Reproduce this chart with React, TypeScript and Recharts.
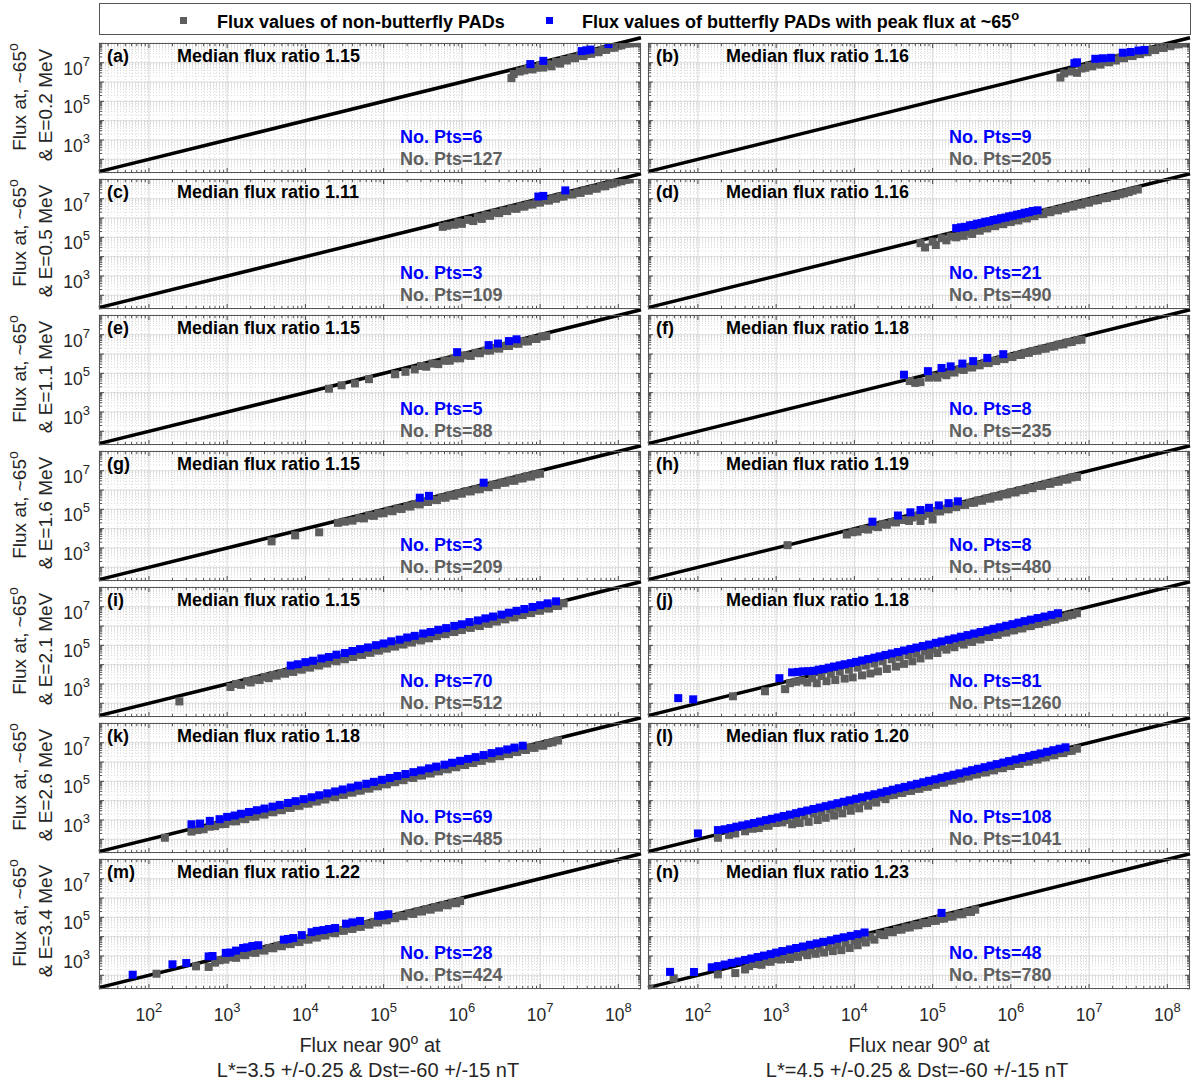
import React from 'react';
import { ScatterChart, Scatter, XAxis, YAxis, CartesianGrid, ReferenceLine } from 'recharts';

type Pair = [number, number];

// axis limits shared by every panel
const X_LIMITS: [number, number] = [23, 1.95e8];
const Y_LIMITS: [number, number] = [19.5, 1.05e8];
const X_TICK_LABELS = [1e2, 1e3, 1e4, 1e5, 1e6, 1e7, 1e8];
const Y_TICK_LABELS = [1e3, 1e5, 1e7];
const DECADES = [1e2, 1e3, 1e4, 1e5, 1e6, 1e7, 1e8];

const PANEL_TAGS = ['a', 'b', 'c', 'd', 'e', 'f', 'g', 'h', 'i', 'j', 'k', 'l', 'm', 'n'];
const MEDIAN_RATIOS = ['1.15', '1.16', '1.11', '1.16', '1.15', '1.18', '1.15', '1.19', '1.15', '1.18', '1.18', '1.20', '1.22', '1.23'];
const BUTTERFLY_COUNTS = [6, 9, 3, 21, 5, 8, 3, 8, 70, 81, 69, 108, 28, 48];
const NON_BUTTERFLY_COUNTS = [127, 205, 109, 490, 88, 235, 209, 480, 512, 1260, 485, 1041, 424, 780];
const ENERGIES_MEV = ['0.2', '0.5', '1.1', '1.6', '2.1', '2.6', '3.4'];
const L_STAR = ['3.5', '4.5'];

// [flux near 90 deg, flux at ~65 deg]
const nonButterflyA: Pair[] = [[4.3e6,1.6e6],[4.6e6,2.6e6],[5.5e6,3.5e6],[6.3e6,4e6],[7e6,4.8e6],[8e6,4.5e6],[9e6,5.5e6],[1e7,7e6],[1.1e7,5.6e6],[1.25e7,8.5e6],[1.4e7,6.5e6],[1.6e7,1.1e7],[1.8e7,9e6],[2e7,1.4e7],[2.2e7,1.3e7],[2.5e7,1.8e7],[2.8e7,1.7e7],[3.2e7,2.3e7],[3.6e7,2.2e7],[4e7,2.9e7],[4.5e7,2.9e7],[5e7,3.7e7],[5.6e7,3.5e7],[6.3e7,4.6e7],[7e7,4.6e7],[8e7,6e7],[9e7,6e7],[1e8,7.5e7],[1.1e8,8e7],[1.25e8,9.5e7],[1.4e8,1e8],[1.6e8,1.02e8]];
const butterflyA: Pair[] = [[7.5e6,8.5e6],[1.1e7,1.25e7],[3.4e7,4e7],[3.9e7,4.4e7],[4.4e7,4.8e7],[7.5e7,9.3e7]];

const nonButterflyB: Pair[] = [[4.3e6,1.7e6],[4.8e6,2.8e6],[6e6,3.5e6],[7e6,3e6],[8e6,5e6],[9e6,5.5e6],[1e7,7e6],[1.1e7,6.5e6],[1.25e7,9e6],[1.4e7,8e6],[1.6e7,1.15e7],[1.8e7,1.05e7],[2e7,1.45e7],[2.2e7,1.3e7],[2.5e7,1.8e7],[2.8e7,1.7e7],[3.2e7,2.3e7],[3.6e7,2.2e7],[4e7,2.9e7],[4.5e7,2.8e7],[5e7,3.7e7],[5.6e7,3.5e7],[6.3e7,4.7e7],[7e7,4.5e7],[8e7,6e7],[9e7,5.8e7],[1e8,7.5e7],[1.1e8,7.2e7],[1.25e8,9e7],[1.4e8,9e7],[1.6e8,1.02e8],[1.8e8,1.02e8]];
const butterflyB: Pair[] = [[6.5e6,9.5e6],[7e6,1.05e7],[1.2e7,1.6e7],[1.5e7,1.7e7],[1.9e7,1.8e7],[2.7e7,3.3e7],[3.4e7,3.6e7],[4.3e7,4.3e7],[5.1e7,4.6e7]];

const nonButterflyC: Pair[] = [[5.7e5,3.5e5],[6.5e5,4e5],[8e5,4.5e5],[9e5,6e5],[1e6,5e5],[1.2e6,8e5],[1.4e6,7e5],[1.6e6,1.1e6],[1.8e6,9e5],[2e6,1.4e6],[2.3e6,1.3e6],[2.6e6,1.9e6],[3e6,1.8e6],[3.4e6,2.4e6],[3.8e6,2.3e6],[4.3e6,3.1e6],[5e6,3e6],[5.6e6,4e6],[6.3e6,3.9e6],[7e6,5e6],[8e6,5e6],[9e6,6.5e6],[1e7,6.3e6],[1.15e7,8.3e6],[1.3e7,8e6],[1.45e7,1.05e7],[1.6e7,1e7],[1.8e7,1.3e7],[2e7,1.3e7],[2.3e7,1.7e7],[2.6e7,1.65e7],[3e7,2.1e7],[3.3e7,2e7],[3.7e7,2.7e7],[4.2e7,2.6e7],[4.7e7,3.4e7],[5.3e7,3.3e7],[6e7,4.4e7],[6.8e7,4.4e7],[7.6e7,5.6e7],[8.5e7,6e7],[9.5e7,7e7],[1.1e8,8e7],[1.25e8,9.5e7],[1.4e8,1e8]];
const butterflyC: Pair[] = [[9.5e6,1.3e7],[1.1e7,1.4e7],[2.1e7,2.7e7]];

const nonButterflyD: Pair[] = [[7e4,5e4],[8e4,3e4],[1e5,6e4],[1.1e5,4e4],[1.3e5,9e4],[1.5e5,7e4],[1.7e5,1.1e5],[2e5,1e5],[2.2e5,1.5e5],[2.5e5,1.2e5],[2.8e5,2e5],[3.2e5,1.5e5],[3.6e5,2.5e5],[4e5,2.2e5],[4.5e5,3.2e5],[5e5,2.9e5],[5.6e5,4e5],[6.3e5,3.8e5],[7e5,5e5],[8e5,4.8e5],[9e5,6.5e5],[1e6,6.2e5],[1.1e6,8e5],[1.25e6,7.5e5],[1.4e6,1e6],[1.6e6,9.5e5],[1.8e6,1.3e6],[2e6,1.25e6],[2.3e6,1.6e6],[2.6e6,1.6e6],[2.9e6,2.1e6],[3.2e6,2e6],[3.6e6,2.6e6],[4e6,2.5e6],[4.5e6,3.2e6],[5e6,3.1e6],[5.6e6,4e6],[6.3e6,4e6],[7e6,5e6],[8e6,5e6],[9e6,6.5e6],[1e7,6.3e6],[1.15e7,8e6],[1.3e7,8.5e6],[1.5e7,1.05e7],[1.7e7,1.1e7],[1.9e7,1.35e7],[2.2e7,1.4e7],[2.5e7,1.7e7],[2.8e7,1.9e7],[3.2e7,2.2e7],[3.6e7,2.6e7],[4.2e7,3e7]];
const butterflyD: Pair[] = [[2e5,3e5],[2.3e5,3.3e5],[2.6e5,3.5e5],[3e5,4.2e5],[3.3e5,4.4e5],[3.7e5,5.1e5],[4.2e5,5.5e5],[4.7e5,6.4e5],[5.3e5,6.8e5],[6e5,7.9e5],[6.7e5,8.5e5],[7.5e5,9.8e5],[8.5e5,1.06e6],[9.5e5,1.22e6],[1.06e6,1.32e6],[1.2e6,1.5e6],[1.35e6,1.63e6],[1.5e6,1.88e6],[1.7e6,2.03e6],[1.9e6,2.32e6],[2.2e6,2.52e6]];

const nonButterflyE: Pair[] = [[2e4,1.6e4],[2.9e4,2.4e4],[4.3e4,3e4],[6.5e4,5e4],[1.4e5,9e4],[1.9e5,1.2e5],[2.5e5,1.6e5],[3e5,2.4e5],[3.5e5,2.2e5],[4.2e5,3.2e5],[5e5,3e5],[6e5,4.5e5],[7e5,4.5e5],[8e5,6e5],[9.5e5,6e5],[1.1e6,8.5e5],[1.3e6,8e5],[1.5e6,1.15e6],[1.7e6,1.1e6],[2e6,1.5e6],[2.3e6,1.5e6],[2.6e6,2e6],[3e6,1.9e6],[3.5e6,2.6e6],[4e6,2.6e6],[4.6e6,3.5e6],[5.3e6,3.4e6],[6e6,4.5e6],[7e6,4.5e6],[8e6,6e6],[9e6,6e6],[1.05e7,8e6],[1.2e7,8.5e6]];
const butterflyE: Pair[] = [[8.7e5,1.25e6],[2.2e6,2.9e6],[2.9e6,3.5e6],[4e6,4.7e6],[5e6,5.8e6]];

const nonButterflyF: Pair[] = [[5.1e4,4e4],[6e4,3.2e4],[7e4,3.5e4],[9e4,6e4],[1e5,7e4],[1.15e5,6e4],[1.3e5,9.5e4],[1.5e5,8e4],[1.7e5,1.2e5],[1.9e5,1.1e5],[2.2e5,1.6e5],[2.5e5,1.5e5],[2.8e5,2.1e5],[3.2e5,2e5],[3.6e5,2.7e5],[4e5,2.6e5],[4.6e5,3.5e5],[5.2e5,3.4e5],[5.8e5,4.4e5],[6.5e5,4.3e5],[7.4e5,5.6e5],[8.3e5,5.5e5],[9.3e5,7e5],[1.05e6,7e5],[1.2e6,9e5],[1.35e6,9e5],[1.5e6,1.15e6],[1.7e6,1.15e6],[1.9e6,1.45e6],[2.2e6,1.5e6],[2.5e6,1.9e6],[2.8e6,1.9e6],[3.2e6,2.4e6],[3.6e6,2.5e6],[4.1e6,3.1e6],[4.7e6,3.2e6],[5.3e6,4e6],[6e6,4.2e6],[7e6,5.2e6],[8e6,5.5e6]];
const butterflyF: Pair[] = [[4.3e4,8.5e4],[8.7e4,1.3e5],[1.3e5,1.9e5],[1.7e5,2.3e5],[2.4e5,3.2e5],[3.3e5,4.3e5],[5e5,6.3e5],[8e5,9.8e5]];

const nonButterflyG: Pair[] = [[3.7e3,2.2e3],[7.4e3,4.5e3],[1.5e4,6.5e3],[2.6e4,2e4],[3.2e4,2.3e4],[4e4,2.6e4],[4.8e4,3.5e4],[5.6e4,3.4e4],[6.5e4,4.8e4],[7.5e4,4.6e4],[8.5e4,6.2e4],[1e5,6.3e4],[1.15e5,8.5e4],[1.3e5,8e4],[1.5e5,1.1e5],[1.7e5,1.05e5],[2e5,1.45e5],[2.2e5,1.4e5],[2.5e5,1.9e5],[2.9e5,1.8e5],[3.3e5,2.4e5],[3.7e5,2.4e5],[4.2e5,3.2e5],[4.8e5,3e5],[5.5e5,4.1e5],[6.2e5,4e5],[7e5,5.3e5],[8e5,5.1e5],[9e5,6.8e5],[1e6,6.5e5],[1.15e6,8.7e5],[1.3e6,8.5e5],[1.5e6,1.1e6],[1.7e6,1.1e6],[1.9e6,1.45e6],[2.2e6,1.4e6],[2.5e6,1.9e6],[2.8e6,1.85e6],[3.2e6,2.4e6],[3.6e6,2.4e6],[4.1e6,3.1e6],[4.7e6,3e6],[5.3e6,4e6],[6e6,4e6],[6.8e6,5.1e6],[7.7e6,5e6],[8.7e6,6.5e6],[1e7,7e6]];
const butterflyG: Pair[] = [[2.9e5,4e5],[3.8e5,5e5],[1.9e6,2.4e6]];

const nonButterflyH: Pair[] = [[1.4e3,1.4e3],[8e3,5e3],[9.5e3,6.5e3],[1.1e4,7e3],[1.3e4,9.5e3],[1.5e4,9e3],[1.8e4,1.3e4],[2e4,1.2e4],[2.3e4,1.7e4],[2.6e4,1.6e4],[3e4,2.2e4],[3.4e4,2.1e4],[3.8e4,2.8e4],[4.5e4,2.8e4],[5e4,2.5e4],[5.5e4,3.8e4],[6.5e4,4.6e4],[7e4,2.5e4],[7.5e4,4.6e4],[8.5e4,6.2e4],[9.5e4,6e4],[1e5,3e4],[1.1e5,8e4],[1.25e5,7.8e4],[1.4e5,1.05e5],[1.6e5,1e5],[1.8e5,1.35e5],[2e5,1.3e5],[2.3e5,1.7e5],[2.6e5,1.7e5],[3e5,2.2e5],[3.4e5,2.2e5],[3.8e5,2.9e5],[4.3e5,2.8e5],[4.9e5,3.7e5],[5.5e5,3.6e5],[6.2e5,4.7e5],[7e5,4.6e5],[8e5,6e5],[9e5,6e5],[1e6,7.7e5],[1.15e6,7.5e5],[1.3e6,9.8e5],[1.5e6,1e6],[1.7e6,1.3e6],[1.9e6,1.25e6],[2.2e6,1.65e6],[2.5e6,1.65e6],[2.8e6,2.1e6],[3.2e6,2.1e6],[3.6e6,2.7e6],[4.1e6,2.7e6],[4.7e6,3.5e6],[5.3e6,3.5e6],[6e6,4.5e6],[7e6,4.8e6]];
const butterflyH: Pair[] = [[1.7e4,2.3e4],[3.6e4,4.8e4],[5.2e4,7e4],[7e4,9.2e4],[9e4,1.2e5],[1.2e5,1.6e5],[1.6e5,2.1e5],[2.1e5,2.6e5]];

const nonButterflyI: Pair[] = [[245,125],[1.1e3,700],[1.3e3,1e3],[1.5e3,900],[1.8e3,1.4e3],[2e3,1.2e3],[2.3e3,1.7e3],[2.6e3,1.6e3],[3e3,2.3e3],[3.4e3,2e3],[3.8e3,2.9e3],[4.3e3,2.7e3],[4.9e3,3.7e3],[5.5e3,3.4e3],[6.2e3,4.7e3],[7e3,4.2e3],[8e3,6e3],[9e3,5.5e3],[1e4,7.6e3],[1.15e4,7e3],[1.3e4,9.8e3],[1.5e4,9e3],[1.7e4,1.3e4],[1.9e4,1.15e4],[2.2e4,1.65e4],[2.5e4,1.5e4],[2.8e4,2.1e4],[3.2e4,1.9e4],[3.6e4,2.7e4],[4.1e4,2.5e4],[4.7e4,3.5e4],[5.3e4,3.2e4],[6e4,4.5e4],[6.8e4,4.1e4],[7.7e4,5.8e4],[8.7e4,5.3e4],[1e5,7.5e4],[1.1e5,6.8e4],[1.25e5,9.5e4],[1.4e5,8.6e4],[1.6e5,1.2e5],[1.8e5,1.1e5],[2e5,1.55e5],[2.3e5,1.4e5],[2.6e5,2e5],[3e5,1.8e5],[3.3e5,2.5e5],[3.8e5,2.3e5],[4.3e5,3.2e5],[4.8e5,3e5],[5.5e5,4.1e5],[6.2e5,3.8e5],[7e5,5.3e5],[8e5,4.9e5],[9e5,6.8e5],[1e6,6.2e5],[1.15e6,8.7e5],[1.3e6,8e5],[1.5e6,1.1e6],[1.7e6,1e6],[1.9e6,1.45e6],[2.2e6,1.3e6],[2.5e6,1.85e6],[2.8e6,1.7e6],[3.2e6,2.4e6],[3.6e6,2.2e6],[4.1e6,3.1e6],[4.7e6,2.8e6],[5.3e6,4e6],[6e6,3.7e6],[6.8e6,5.1e6],[7.7e6,4.7e6],[8.7e6,6.5e6],[1e7,6.2e6],[1.15e7,8.5e6],[1.3e7,8e6],[1.5e7,1.1e7],[1.7e7,1.1e7],[2e7,1.5e7]];
const butterflyI: Pair[] = [[6.5e3,9e3],[8e3,1.05e4],[1e4,1.35e4],[1.25e4,1.6e4],[1.6e4,2.1e4],[2e4,2.5e4],[2.5e4,3.3e4],[3.2e4,4e4],[4e4,5.1e4],[5e4,6.4e4],[6.3e4,7.8e4],[8e4,1.02e5],[1e5,1.25e5],[1.25e5,1.62e5],[1.6e5,1.98e5],[2e5,2.55e5],[2.5e5,3.1e5],[3.2e5,4.1e5],[4e5,4.9e5],[5e5,6.4e5],[6.3e5,7.8e5],[8e5,1.02e6],[1e6,1.23e6],[1.25e6,1.6e6],[1.6e6,1.95e6],[2e6,2.5e6],[2.5e6,3.1e6],[3.2e6,3.9e6],[4e6,4.9e6],[5e6,6.1e6],[6.3e6,7.6e6],[8e6,9.7e6],[1e7,1.2e7],[1.25e7,1.5e7],[1.6e7,1.9e7]];

const nonButterflyJ: Pair[] = [[280,230],[720,420],[1.3e3,540],[1.5e3,1.1e3],[1.8e3,1.3e3],[2.1e3,1.5e3],[2.5e3,1.2e3],[2.9e3,2e3],[3.3e3,1.1e3],[3.8e3,2.6e3],[4.4e3,1.4e3],[5e3,3.4e3],[5.7e3,1.6e3],[6.5e3,4.3e3],[7.5e3,1.9e3],[8.5e3,5.5e3],[9.5e3,2.2e3],[1.1e4,7e3],[1.25e4,2.8e3],[1.4e4,9e3],[1.6e4,3.5e3],[1.8e4,1.15e4],[2e4,4.5e3],[2.3e4,1.5e4],[2.6e4,6e3],[3e4,1.9e4],[3.4e4,8e3],[3.8e4,2.4e4],[4.3e4,1.1e4],[4.9e4,3.1e4],[5.5e4,1.5e4],[6.2e4,4e4],[7e4,2.1e4],[8e4,5.1e4],[9e4,3e4],[1e5,6.5e4],[1.15e5,4e4],[1.3e5,8.3e4],[1.5e5,6e4],[1.7e5,1.05e5],[1.9e5,8e4],[2.2e5,1.35e5],[2.5e5,1.1e5],[2.8e5,1.75e5],[3.2e5,1.5e5],[3.6e5,2.2e5],[4.1e5,2e5],[4.7e5,2.9e5],[5.3e5,2.7e5],[6e5,3.7e5],[6.8e5,3.5e5],[7.7e5,4.7e5],[8.7e5,4.6e5],[1e6,6e5],[1.1e6,6e5],[1.25e6,7.7e5],[1.4e6,7.5e5],[1.6e6,9.8e5],[1.8e6,1e6],[2e6,1.25e6],[2.3e6,1.3e6],[2.6e6,1.6e6],[2.9e6,1.7e6],[3.3e6,2.1e6],[3.7e6,2.2e6],[4.2e6,2.7e6],[4.8e6,2.9e6],[5.4e6,3.5e6],[6.1e6,3.8e6],[7e6,4.6e6]];
const butterflyJ: Pair[] = [[56,185],[87,160],[1.1e3,2e3],[1.6e3,4e3],[1.9e3,4.2e3],[2.2e3,4.5e3],[2.6e3,4.6e3],[3e3,4.8e3],[3.5e3,5.5e3],[4e3,6e3],[4.7e3,7e3],[5.5e3,8e3],[6.5e3,9.2e3],[7.5e3,1.05e4],[9e3,1.2e4],[1.05e4,1.4e4],[1.25e4,1.65e4],[1.5e4,1.95e4],[1.8e4,2.3e4],[2.1e4,2.7e4],[2.5e4,3.2e4],[3e4,3.8e4],[3.6e4,4.5e4],[4.3e4,5.4e4],[5.2e4,6.5e4],[6.2e4,7.7e4],[7.5e4,9.2e4],[9e4,1.1e5],[1.1e5,1.35e5],[1.3e5,1.6e5],[1.6e5,1.95e5],[1.9e5,2.3e5],[2.3e5,2.8e5],[2.8e5,3.4e5],[3.4e5,4.1e5],[4.1e5,4.9e5],[5e5,6e5],[6e5,7.2e5],[7.2e5,8.6e5],[8.7e5,1.04e6],[1.05e6,1.25e6],[1.25e6,1.5e6],[1.5e6,1.8e6],[1.8e6,2.15e6],[2.2e6,2.6e6],[2.7e6,3.1e6],[3.3e6,3.8e6],[4e6,4.6e6]];

const nonButterflyK: Pair[] = [[160,120],[350,250],[420,300],[500,330],[600,450],[700,480],[800,600],[950,620],[1.1e3,850],[1.3e3,850],[1.5e3,1.15e3],[1.7e3,1.1e3],[2e3,1.5e3],[2.3e3,1.5e3],[2.6e3,2e3],[3e3,1.9e3],[3.4e3,2.6e3],[3.9e3,2.5e3],[4.4e3,3.4e3],[5e3,3.2e3],[5.7e3,4.3e3],[6.5e3,4.2e3],[7.4e3,5.6e3],[8.4e3,5.4e3],[9.5e3,7.2e3],[1.1e4,7e3],[1.25e4,9.5e3],[1.4e4,9e3],[1.6e4,1.2e4],[1.8e4,1.15e4],[2.1e4,1.6e4],[2.4e4,1.5e4],[2.7e4,2.05e4],[3.1e4,2e4],[3.5e4,2.7e4],[4e4,2.6e4],[4.5e4,3.4e4],[5.1e4,3.3e4],[5.8e4,4.4e4],[6.6e4,4.2e4],[7.5e4,5.7e4],[8.5e4,5.5e4],[9.7e4,7.3e4],[1.1e5,7e4],[1.25e5,9.5e4],[1.4e5,9e4],[1.6e5,1.2e5],[1.8e5,1.15e5],[2.1e5,1.6e5],[2.4e5,1.5e5],[2.7e5,2.05e5],[3.1e5,2e5],[3.5e5,2.65e5],[4e5,2.55e5],[4.5e5,3.4e5],[5.1e5,3.3e5],[5.8e5,4.4e5],[6.6e5,4.2e5],[7.5e5,5.7e5],[8.5e5,5.4e5],[9.7e5,7.3e5],[1.1e6,7e5],[1.25e6,9.5e5],[1.4e6,9e5],[1.6e6,1.2e6],[1.8e6,1.15e6],[2.1e6,1.6e6],[2.4e6,1.5e6],[2.7e6,2.05e6],[3.1e6,2e6],[3.5e6,2.65e6],[4e6,2.55e6],[4.5e6,3.4e6],[5.1e6,3.3e6],[5.8e6,4.4e6],[6.6e6,4.2e6],[7.5e6,5.7e6],[8.5e6,5.4e6],[9.7e6,7.3e6],[1.1e7,7e6],[1.25e7,9.5e6],[1.45e7,1.05e7],[1.7e7,1.3e7]];
const butterflyK: Pair[] = [[350,600],[450,650],[600,900],[800,1.1e3],[1e3,1.45e3],[1.25e3,1.7e3],[1.5e3,2.1e3],[1.9e3,2.6e3],[2.4e3,3.2e3],[3e3,3.9e3],[3.8e3,4.9e3],[4.7e3,6e3],[6e3,7.6e3],[7.5e3,9.4e3],[9.5e3,1.2e4],[1.2e4,1.5e4],[1.5e4,1.9e4],[1.9e4,2.4e4],[2.4e4,3e4],[3e4,3.8e4],[3.8e4,4.8e4],[4.7e4,6e4],[6e4,7.5e4],[7.5e4,9.4e4],[9.5e4,1.2e5],[1.2e5,1.5e5],[1.5e5,1.9e5],[1.9e5,2.4e5],[2.4e5,3e5],[3e5,3.7e5],[3.8e5,4.7e5],[4.7e5,5.8e5],[6e5,7.3e5],[7.5e5,9.2e5],[9.5e5,1.15e6],[1.2e6,1.45e6],[1.5e6,1.8e6],[1.9e6,2.3e6],[2.4e6,2.9e6],[3e6,3.6e6],[3.8e6,4.5e6],[4.7e6,5.6e6],[6e6,7e6]];

const nonButterflyL: Pair[] = [[180,120],[250,170],[300,200],[400,260],[500,350],[600,380],[700,500],[800,500],[1e3,700],[1.2e3,750],[1.4e3,1e3],[1.6e3,600],[1.8e3,1.3e3],[2e3,700],[2.3e3,1.6e3],[2.6e3,800],[3e3,2.1e3],[3.4e3,1e3],[3.8e3,2.6e3],[4.3e3,1.3e3],[4.9e3,3.4e3],[5.5e3,1.7e3],[6.2e3,4.3e3],[7e3,2.2e3],[8e3,5.5e3],[9e3,3e3],[1e4,7e3],[1.15e4,4e3],[1.3e4,9e3],[1.5e4,5.5e3],[1.7e4,1.15e4],[1.9e4,8e3],[2.2e4,1.5e4],[2.5e4,1.2e4],[2.8e4,1.9e4],[3.2e4,2e4],[3.6e4,2.5e4],[4.1e4,2.5e4],[4.7e4,3.2e4],[5.3e4,3.2e4],[6e4,4.2e4],[6.8e4,4.1e4],[7.7e4,5.4e4],[8.7e4,5.2e4],[1e5,7e4],[1.1e5,6.6e4],[1.25e5,8.8e4],[1.4e5,8.5e4],[1.6e5,1.12e5],[1.8e5,1.1e5],[2e5,1.4e5],[2.3e5,1.4e5],[2.6e5,1.8e5],[2.9e5,1.8e5],[3.3e5,2.3e5],[3.7e5,2.3e5],[4.2e5,2.9e5],[4.8e5,2.9e5],[5.4e5,3.8e5],[6.1e5,3.7e5],[7e5,4.9e5],[7.9e5,4.8e5],[9e5,6.3e5],[1e6,6.2e5],[1.15e6,8e5],[1.3e6,8e5],[1.5e6,1.05e6],[1.7e6,1.05e6],[1.9e6,1.35e6],[2.2e6,1.35e6],[2.5e6,1.75e6],[2.8e6,1.75e6],[3.2e6,2.25e6],[3.6e6,2.25e6],[4.1e6,2.9e6],[4.7e6,2.9e6],[5.3e6,3.7e6],[6e6,3.8e6],[7e6,4.9e6]];
const butterflyL: Pair[] = [[100,200],[180,300],[220,330],[260,380],[310,450],[370,520],[440,600],[520,700],[620,830],[740,980],[880,1.15e3],[1.05e3,1.35e3],[1.25e3,1.6e3],[1.5e3,1.9e3],[1.8e3,2.25e3],[2.1e3,2.65e3],[2.5e3,3.1e3],[3e3,3.7e3],[3.6e3,4.4e3],[4.3e3,5.2e3],[5.1e3,6.2e3],[6.1e3,7.4e3],[7.3e3,8.8e3],[8.7e3,1.05e4],[1.05e4,1.25e4],[1.25e4,1.5e4],[1.5e4,1.8e4],[1.8e4,2.15e4],[2.2e4,2.6e4],[2.6e4,3.1e4],[3.1e4,3.7e4],[3.7e4,4.4e4],[4.4e4,5.2e4],[5.3e4,6.3e4],[6.3e4,7.5e4],[7.6e4,9e4],[9e4,1.07e5],[1.08e5,1.28e5],[1.3e5,1.54e5],[1.55e5,1.84e5],[1.85e5,2.2e5],[2.2e5,2.6e5],[2.7e5,3.2e5],[3.2e5,3.8e5],[3.8e5,4.5e5],[4.6e5,5.4e5],[5.5e5,6.5e5],[6.6e5,7.8e5],[8e5,9.4e5],[9.5e5,1.12e6],[1.15e6,1.35e6],[1.4e6,1.64e6],[1.7e6,2e6],[2e6,2.35e6],[2.4e6,2.8e6],[2.9e6,3.4e6],[3.5e6,4.1e6],[4.2e6,4.9e6],[5e6,5.8e6]];

const nonButterflyM: Pair[] = [[125,120],[400,290],[580,270],[700,450],[800,600],[950,650],[1.1e3,850],[1.3e3,800],[1.5e3,1.15e3],[1.7e3,1.1e3],[2e3,1.5e3],[2.3e3,1.45e3],[2.6e3,2e3],[3e3,1.9e3],[3.4e3,2.6e3],[3.9e3,2.5e3],[4.4e3,3.4e3],[5e3,3.2e3],[5.7e3,4.3e3],[6.5e3,4.1e3],[7.4e3,5.6e3],[8.4e3,5.3e3],[9.5e3,7.2e3],[1.1e4,7e3],[1.25e4,9.5e3],[1.4e4,9e3],[1.6e4,1.2e4],[1.8e4,1.15e4],[2.1e4,1.6e4],[2.4e4,1.5e4],[2.7e4,2.05e4],[3.1e4,2e4],[3.5e4,2.7e4],[4e4,2.5e4],[4.5e4,3.4e4],[5.1e4,3.2e4],[5.8e4,4.4e4],[6.6e4,4.2e4],[7.5e4,5.7e4],[8.5e4,5.4e4],[9.7e4,7.3e4],[1.1e5,7e4],[1.25e5,9.5e4],[1.4e5,9e4],[1.6e5,1.2e5],[1.8e5,1.15e5],[2.1e5,1.6e5],[2.4e5,1.5e5],[2.7e5,2.05e5],[3.1e5,2e5],[3.5e5,2.65e5],[4e5,2.5e5],[4.5e5,3.4e5],[5.1e5,3.2e5],[5.8e5,4.4e5],[6.6e5,4.2e5],[7.5e5,5.7e5],[8.5e5,5.4e5],[9.5e5,7e5]];
const butterflyM: Pair[] = [[62,107],[200,370],[300,430],[580,950],[650,1e3],[960,1.45e3],[1.1e3,1.5e3],[1.3e3,1.9e3],[1.6e3,2.6e3],[1.8e3,2.8e3],[2.1e3,3.3e3],[2.5e3,3.6e3],[5.3e3,7e3],[6e3,7.6e3],[7e3,8.5e3],[9e3,1.2e4],[1.2e4,1.7e4],[1.4e4,2e4],[1.7e4,2.2e4],[2e4,2.5e4],[2.4e4,2.8e4],[3.3e4,4.7e4],[4e4,5.5e4],[5e4,6.5e4],[8.5e4,1.2e5],[9.5e4,1.25e5],[1e5,1.3e5],[1.15e5,1.45e5]];

const nonButterflyN: Pair[] = [[24,21],[49,70],[180,112],[300,130],[400,200],[450,300],[550,380],[650,350],[750,520],[850,500],[1e3,700],[1.15e3,650],[1.3e3,900],[1.5e3,700],[1.7e3,1.2e3],[1.9e3,900],[2.2e3,1.5e3],[2.5e3,1.1e3],[2.8e3,1.9e3],[3.2e3,1.3e3],[3.6e3,2.4e3],[4.1e3,1.5e3],[4.7e3,3e3],[5.3e3,1.8e3],[6e3,3.8e3],[6.8e3,2e3],[7.7e3,4.8e3],[8.7e3,2.6e3],[1e4,6e3],[1.1e4,3.6e3],[1.25e4,7.8e3],[1.4e4,5e3],[1.6e4,1e4],[1.8e4,7e3],[2.1e4,1.35e4],[2.4e4,1.2e4],[2.7e4,1.75e4],[3.1e4,1.7e4],[3.5e4,2.3e4],[4e4,2.3e4],[4.5e4,3e4],[5.1e4,3e4],[5.8e4,3.9e4],[6.6e4,3.9e4],[7.5e4,5e4],[8.5e4,5.1e4],[9.7e4,6.5e4],[1.1e5,6.6e4],[1.25e5,8.5e4],[1.4e5,8.6e4],[1.6e5,1.1e5],[1.8e5,1.1e5],[2.1e5,1.45e5],[2.4e5,1.45e5],[2.7e5,1.9e5],[3.1e5,1.9e5],[3.5e5,2.5e5]];
const butterflyN: Pair[] = [[44,150],[89,148],[150,260],[180,300],[220,360],[270,440],[330,520],[400,620],[480,740],[580,880],[700,1.05e3],[850,1.25e3],[1e3,1.5e3],[1.2e3,1.8e3],[1.5e3,2.2e3],[1.8e3,2.6e3],[2.2e3,3.1e3],[2.7e3,3.8e3],[3.3e3,4.5e3],[4e3,5.4e3],[5e3,6.5e3],[6e3,7.8e3],[7.3e3,9.3e3],[9e3,1.1e4],[1.1e4,1.35e4],[1.35e4,1.65e4],[1.3e5,1.7e5]];

const NON_BUTTERFLY = [nonButterflyA, nonButterflyB, nonButterflyC, nonButterflyD, nonButterflyE, nonButterflyF, nonButterflyG, nonButterflyH, nonButterflyI, nonButterflyJ, nonButterflyK, nonButterflyL, nonButterflyM, nonButterflyN];
const BUTTERFLY = [butterflyA, butterflyB, butterflyC, butterflyD, butterflyE, butterflyF, butterflyG, butterflyH, butterflyI, butterflyJ, butterflyK, butterflyL, butterflyM, butterflyN];

// layout
const FONT = '"Liberation Sans", Arial, Helvetica, sans-serif';
const INK = '#262626';
const GRAY = '#5e5e5e';
const BLUE = '#0000ff';
const PLOT_W = 542;
const PLOT_H = 130;
const Y_AXIS_W = 60;
const X_AXIS_H = 50;
const TOP_PAD = 10;
const RIGHT_PAD = 10;
const COL_X = [99, 648];
const ROW_Y0 = 43;
const ROW_STEP = 136;
const MARK = 8;

function logTicks([lo, hi]: [number, number]) {
  const out: number[] = [];
  for (let e = Math.floor(Math.log10(lo)); e <= Math.ceil(Math.log10(hi)); e++) {
    for (let k = 1; k <= 9; k++) {
      const v = k * 10 ** e;
      if (v >= lo && v <= hi) out.push(v);
    }
  }
  return out;
}
const X_TICKS = logTicks(X_LIMITS);
const Y_TICKS = logTicks(Y_LIMITS);
const isDecade = (v: number) => Math.abs(Math.log10(v) - Math.round(Math.log10(v))) < 1e-9;

const toPoints = (pairs: Pair[]) => pairs.map(([x, y]) => ({ x, y }));

const square = (color: string) => (props: any) => (
  <rect x={props.cx - MARK / 2} y={props.cy - MARK / 2} width={MARK} height={MARK} fill={color} />
);
const graySquare = square(GRAY);
const blueSquare = square(BLUE);

function PowerLabel({ x, y, exp, anchor }: { x: number; y: number; exp: number; anchor: 'middle' | 'end' }) {
  return (
    <text x={x} y={y} textAnchor={anchor} fontFamily={FONT} fontSize={17.5} fill={INK}>
      10<tspan dy={-9} fontSize={13}>{exp}</tspan>
    </text>
  );
}

function XTick(props: any) {
  const { x, y, payload, showLabel } = props;
  const v = payload.value;
  const len = isDecade(v) ? 5 : 3;
  const exp = Math.round(Math.log10(v));
  return (
    <g>
      <line x1={x} x2={x} y1={y} y2={y - len} stroke={INK} strokeWidth={0.8} />
      <line x1={x} x2={x} y1={y - PLOT_H} y2={y - PLOT_H + len} stroke={INK} strokeWidth={0.8} />
      {showLabel && isDecade(v) && X_TICK_LABELS.includes(10 ** exp) && (
        <PowerLabel x={x} y={y + 32} exp={exp} anchor="middle" />
      )}
    </g>
  );
}

function YTick(props: any) {
  const { x, y, payload, showLabel } = props;
  const v = payload.value;
  const len = isDecade(v) ? 5 : 3;
  const exp = Math.round(Math.log10(v));
  return (
    <g>
      <line x1={x} x2={x + len} y1={y} y2={y} stroke={INK} strokeWidth={0.8} />
      <line x1={x + PLOT_W} x2={x + PLOT_W - len} y1={y} y2={y} stroke={INK} strokeWidth={0.8} />
      {showLabel && isDecade(v) && Y_TICK_LABELS.includes(10 ** exp) && (
        <PowerLabel x={x - 9} y={y + 12} exp={exp} anchor="end" />
      )}
    </g>
  );
}

function Panel({ index }: { index: number }) {
  const col = index % 2;
  const row = Math.floor(index / 2);
  const showX = row === 6;
  const showY = col === 0;
  return (
    <div style={{ position: 'absolute', left: COL_X[col] - Y_AXIS_W, top: ROW_Y0 + row * ROW_STEP - TOP_PAD }}>
      <ScatterChart
        width={Y_AXIS_W + PLOT_W + RIGHT_PAD}
        height={TOP_PAD + PLOT_H + X_AXIS_H}
        margin={{ top: TOP_PAD, right: RIGHT_PAD, bottom: 0, left: 0 }}
      >
        <CartesianGrid stroke="#c9c9c9" strokeWidth={0.7} strokeDasharray="1 2" />
        <CartesianGrid stroke="#d6d6d6" strokeWidth={0.8} verticalValues={DECADES} horizontalValues={DECADES} />
        <XAxis
          type="number"
          dataKey="x"
          scale="log"
          domain={X_LIMITS}
          allowDataOverflow
          ticks={X_TICKS}
          interval={0}
          tickSize={0}
          tickMargin={0}
          tickLine={false}
          axisLine={false}
          height={X_AXIS_H}
          tick={(p: any) => <XTick {...p} showLabel={showX} />}
        />
        <YAxis
          type="number"
          dataKey="y"
          scale="log"
          domain={Y_LIMITS}
          allowDataOverflow
          ticks={Y_TICKS}
          interval={0}
          tickSize={0}
          tickMargin={0}
          tickLine={false}
          axisLine={false}
          width={Y_AXIS_W}
          tick={(p: any) => <YTick {...p} showLabel={showY} />}
        />
        <Scatter data={toPoints(NON_BUTTERFLY[index])} shape={graySquare} isAnimationActive={false} />
        <Scatter data={toPoints(BUTTERFLY[index])} shape={blueSquare} isAnimationActive={false} />
        <ReferenceLine
          segment={[{ x: X_LIMITS[0], y: X_LIMITS[0] }, { x: X_LIMITS[1], y: X_LIMITS[1] }]}
          stroke="#000"
          strokeWidth={3.5}
          ifOverflow="visible"
        />
      </ScatterChart>
    </div>
  );
}

function Annotations() {
  return (
    <svg width={1196} height={1084} style={{ position: 'absolute', left: 0, top: 0, pointerEvents: 'none' }} fontFamily={FONT}>
      {/* legend */}
      <rect x={99.5} y={3.5} width={1091} height={31} fill="none" stroke="#555" strokeWidth={1} />
      <rect x={180} y={17} width={7} height={7} fill={GRAY} />
      <text x={217} y={27.5} fontSize={18} fontWeight="bold" fill="#000">Flux values of non-butterfly PADs</text>
      <rect x={546} y={17} width={7} height={7} fill={BLUE} />
      <text x={582} y={27.5} fontSize={18} fontWeight="bold" fill="#000">
        Flux values of butterfly PADs with peak flux at ~65<tspan dy={-8} fontSize={13}>o</tspan>
      </text>

      {PANEL_TAGS.map((tag, i) => {
        const col = i % 2;
        const row = Math.floor(i / 2);
        const left = COL_X[col];
        const top = ROW_Y0 + row * ROW_STEP;
        return (
          <g key={tag} fontSize={18} fontWeight="bold">
            <rect x={left + 0.5} y={top + 0.5} width={PLOT_W - 1} height={PLOT_H - 1} fill="none" stroke="#555" strokeWidth={1} />
            <text x={left + 8} y={top + 19} fill="#000">({tag})</text>
            <text x={left + 78} y={top + 19} fill="#000">Median flux ratio {MEDIAN_RATIOS[i]}</text>
            <text x={left + 301} y={top + 100} fill={BLUE}>No. Pts={BUTTERFLY_COUNTS[i]}</text>
            <text x={left + 301} y={top + 122} fill="#606060">No. Pts={NON_BUTTERFLY_COUNTS[i]}</text>
          </g>
        );
      })}

      {ENERGIES_MEV.map((e, row) => {
        const top = ROW_Y0 + row * ROW_STEP;
        return (
          <g key={e} fontSize={19} fill={INK}>
            <text transform={`translate(26, ${top + 54}) rotate(-90)`} textAnchor="middle">
              Flux at, ~65<tspan dy={-8} fontSize={14}>o</tspan>
            </text>
            <text transform={`translate(52, ${top + 62}) rotate(-90)`} textAnchor="middle">
              & E={e} MeV
            </text>
          </g>
        );
      })}

      {L_STAR.map((l, col) => {
        const cx = COL_X[col] + PLOT_W / 2;
        return (
          <g key={l} fontSize={20} fill={INK} textAnchor="middle">
            <text x={cx} y={1052}>
              Flux near 90<tspan dy={-8} fontSize={14}>o</tspan><tspan dy={8}>{' at'}</tspan>
            </text>
            <text x={cx - 2} y={1077}>L*={l} +/-0.25 & Dst=-60 +/-15 nT</text>
          </g>
        );
      })}
    </svg>
  );
}

export default function App() {
  return (
    <div style={{ position: 'absolute', left: 0, top: 0, width: 1196, height: 1084, background: '#fff', overflow: 'hidden' }}>
      {PANEL_TAGS.map((tag, i) => (
        <Panel key={tag} index={i} />
      ))}
      <Annotations />
    </div>
  );
}
